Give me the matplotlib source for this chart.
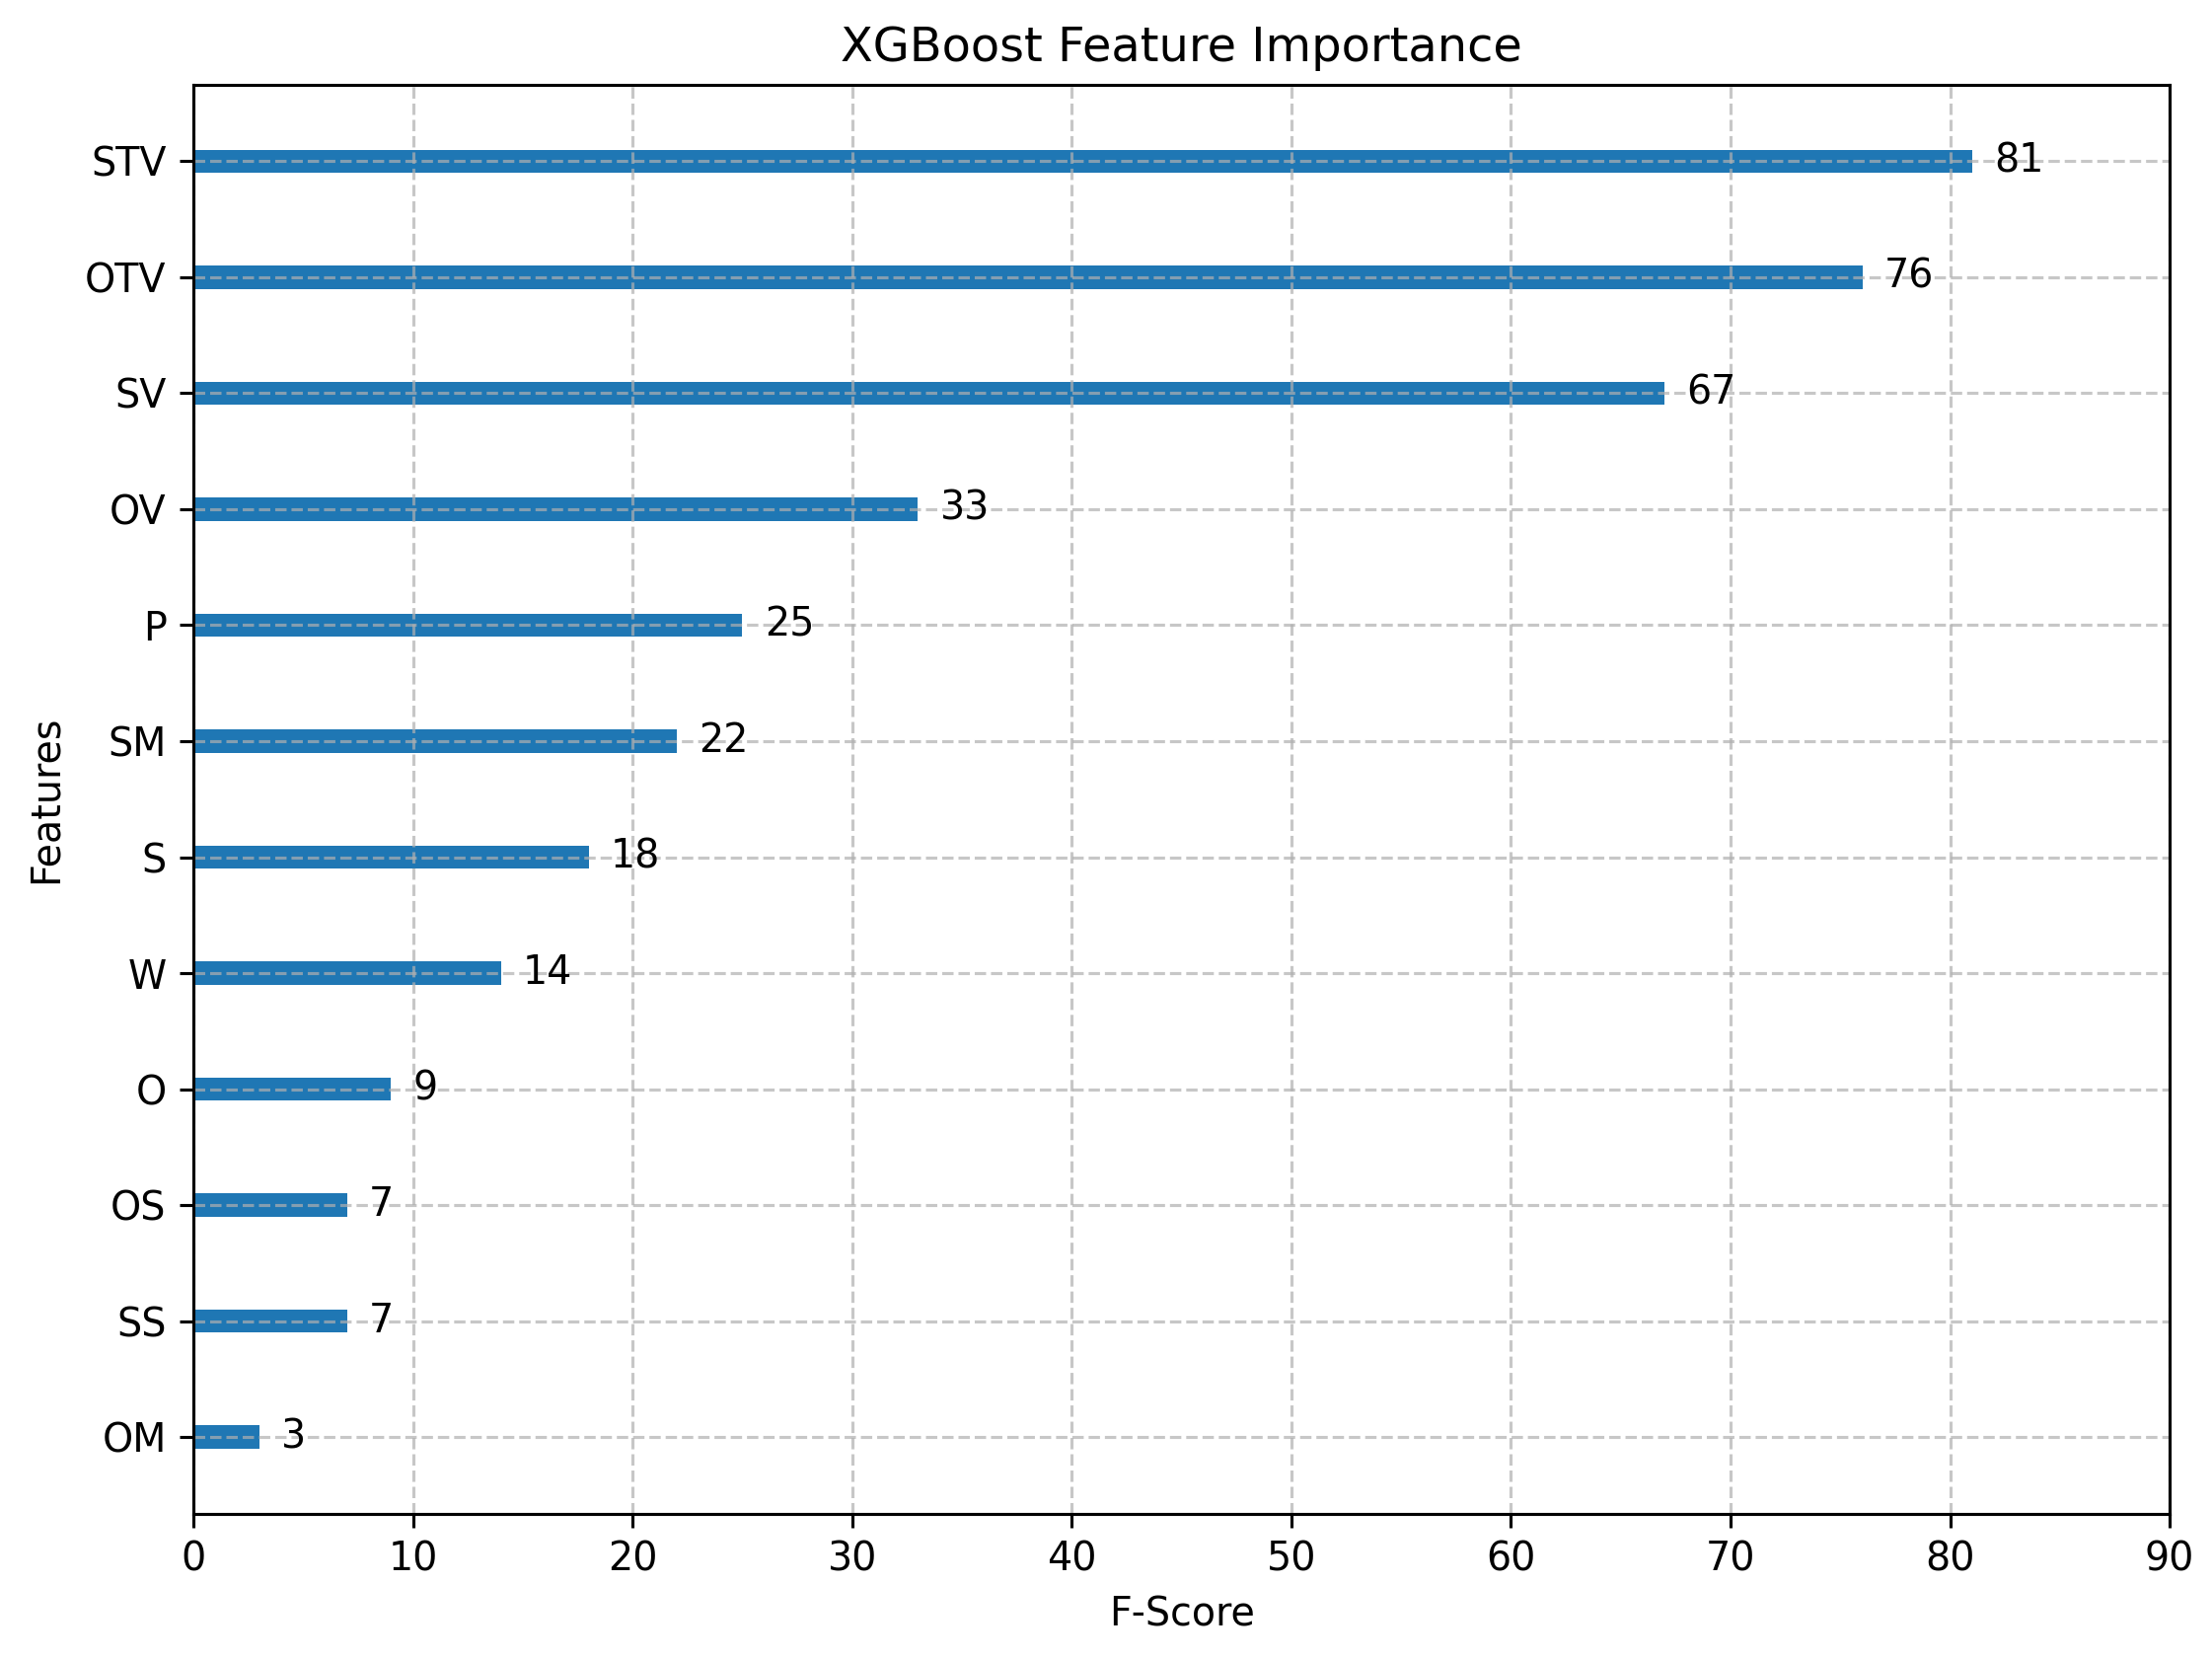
import numpy as np
import matplotlib
matplotlib.use("Agg")
import matplotlib.pyplot as plt

# feature importance (F-score), bottom to top
features = ["OM", "SS", "OS", "O", "W", "S", "SM", "P", "OV", "SV", "OTV", "STV"]
scores = [3, 7, 7, 9, 14, 18, 22, 25, 33, 67, 76, 81]

plt.rcParams["font.size"] = 10.2

fig = plt.figure(figsize=(2242 / 280, 1681 / 280), dpi=280)
ax = fig.add_axes([0.0874, 0.0876, 0.8935, 0.8614])

ylocs = np.arange(len(scores))
ax.barh(ylocs, scores, height=0.2, align="center", color="#1f77b4")

# value labels, same offset as xgboost's plot_importance
for x, y in zip(scores, ylocs):
    ax.text(x + 1, y, str(x), va="center")

ax.set_yticks(ylocs)
ax.set_yticklabels(features)
ax.set_xlim(0, 90)
ax.set_title("XGBoost Feature Importance", fontsize=12.3)
ax.set_xlabel("F-Score")
ax.set_ylabel("Features", labelpad=5)
ax.grid(True, linestyle="--", alpha=0.7)

fig.savefig("out.png", dpi=280)
